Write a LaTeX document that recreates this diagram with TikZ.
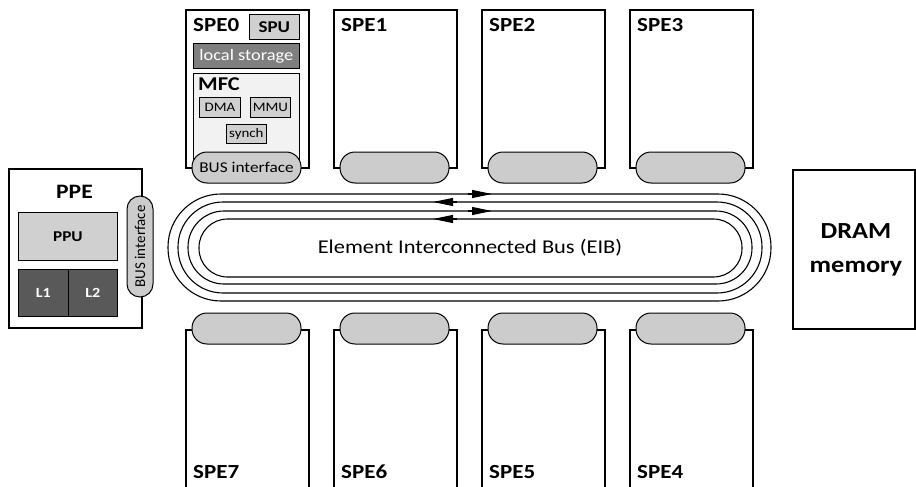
\documentclass[tikz,border=0pt]{standalone}
\usepackage{fontspec}
\setmainfont{Carlito}[FakeStretch=1.15]
\newfontfamily\vfont{Carlito}
\usetikzlibrary{arrows.meta}
\definecolor{pillgray}{HTML}{CCCCCC}
\definecolor{unitgray}{HTML}{D0D0D0}
\definecolor{mfcgray}{HTML}{F2F2F2}
\definecolor{lsgray}{HTML}{7F7F7F}
\definecolor{cachegray}{HTML}{595959}
\begin{document}
\begin{tikzpicture}[x=1pt,y=-1pt,
  spebox/.style={draw, line width=1.8pt, fill=white, inner sep=0pt, minimum width=123pt, minimum height=158pt, anchor=north west},
  pill/.style={draw, line width=1pt, fill=pillgray, rounded corners=15pt, minimum width=109pt, minimum height=31pt, inner sep=0pt, font=\fontsize{15}{18}\selectfont},
  spelabel/.style={inner sep=0pt, font=\fontsize{20}{24}\selectfont\bfseries},
  unit/.style={draw, line width=0.8pt, inner sep=0pt, anchor=north west},
  small/.style={unit, fill=unitgray, font=\fontsize{13}{15}\selectfont},
  ring/.style={line width=1.1pt},
  arrowhead/.style={line width=1.1pt, -{Triangle[length=20pt,width=8pt]}}
]
\useasboundingbox[fill=white] (0,0) rectangle (916,487);

% top SPEs
\foreach \i/\x in {0/185,1/333,2/481,3/629}{
  \node[spebox] (spe\i) at (\x,9) {};
  \node[spelabel, anchor=base west] (spe\i lbl) at (\x+8,31.5) {SPE\i};
}
% SPE0 internals
\node[unit, fill=unitgray, minimum width=50pt, minimum height=25pt, font=\fontsize{16.5}{19}\selectfont\bfseries] (spu) at (249,14) {SPU};
\node[unit, fill=lsgray, text=white, minimum width=106pt, minimum height=25pt, font=\fontsize{16}{19}\selectfont] (ls) at (193,43) {local storage};
\node[unit, fill=mfcgray, minimum width=106pt, minimum height=92pt] (mfc) at (193,73) {};
\node[inner sep=0pt, anchor=base west, font=\fontsize{19.5}{22}\selectfont\bfseries] (mfclbl) at (198,91) {MFC};
\node[small, minimum width=41pt, minimum height=20pt] (dma) at (199,97) {DMA};
\node[small, minimum width=40pt, minimum height=20pt] (mmu) at (250,97) {MMU};
\node[small, minimum width=40pt, minimum height=19pt] (synch) at (226,124) {synch};
% top bus interfaces
\node[pill] (bus0) at (246.5,167.5) {BUS interface};
\foreach \i/\x in {1/333,2/481,3/629}{
  \node[pill] (bus\i) at (\x+61.5,167.5) {};
}

% bottom SPEs
\foreach \i/\x in {7/185,6/333,5/481,4/629}{
  \node[spebox, minimum height=175pt] (spe\i) at (\x,329) {};
  \node[pill] (bus\i) at (\x+61.5,328.5) {};
  \node[spelabel, anchor=base west] (spe\i lbl) at (\x+8,478) {SPE\i};
}

% PPE
\node[draw, line width=1.8pt, fill=white, inner sep=0pt, minimum width=133pt, minimum height=159pt, anchor=north west] (ppe) at (8,168) {};
\node[inner sep=0pt, anchor=base, font=\fontsize{20.5}{24}\selectfont\bfseries] (ppelbl) at (74.5,198) {PPE};
\node[unit, fill=unitgray, minimum width=99pt, minimum height=48pt, font=\fontsize{15}{18}\selectfont\bfseries] (ppu) at (18,212) {PPU};
\node[unit, fill=cachegray, text=white, minimum width=50pt, minimum height=47pt, font=\fontsize{14}{16}\selectfont\bfseries] (l1) at (18,269) {L1};
\node[unit, fill=cachegray, text=white, minimum width=49pt, minimum height=47pt, font=\fontsize{14}{16}\selectfont\bfseries] (l2) at (68,269) {L2};
\node[draw, line width=1pt, fill=pillgray, rounded corners=13pt, minimum width=101pt, minimum height=26pt, inner sep=0pt, rotate=90, font=\vfont\fontsize{15}{18}\selectfont] (ppebus) at (140,246.5) {BUS interface};

% DRAM
\node[draw, line width=1.8pt, fill=white, inner sep=0pt, minimum width=122pt, minimum height=159pt, anchor=north west] (dram) at (792,169) {};
\node[inner sep=0pt, anchor=base, font=\fontsize{23}{27}\selectfont\bfseries] (dramA) at (856,238) {DRAM};
\node[inner sep=0pt, anchor=base, font=\fontsize{23}{27}\selectfont\bfseries] (dramB) at (856,272) {memory};

% EIB rings
\draw[ring, rounded corners=53pt] (168,194) rectangle (771,301);
\draw[ring, rounded corners=45pt] (178,202) rectangle (762,293);
\draw[ring, rounded corners=36pt] (188,211) rectangle (752,284);
\draw[ring, rounded corners=28.5pt] (199,219) rectangle (742,277);
\node[inner sep=0pt, font=\fontsize{19.5}{23}\selectfont] (eib) at (470,248) {Element Interconnected Bus (EIB)};

% direction arrows
\coordinate (r1s) at (468,194); \coordinate (r1e) at (492,194);
\coordinate (r2s) at (457,202); \coordinate (r2e) at (433,202);
\coordinate (r3s) at (468,211); \coordinate (r3e) at (492,211);
\coordinate (r4s) at (457,219); \coordinate (r4e) at (433,219);
\draw[arrowhead] (r1s) -- (r1e);
\draw[arrowhead] (r2s) -- (r2e);
\draw[arrowhead] (r3s) -- (r3e);
\draw[arrowhead] (r4s) -- (r4e);
\end{tikzpicture}
\end{document}
